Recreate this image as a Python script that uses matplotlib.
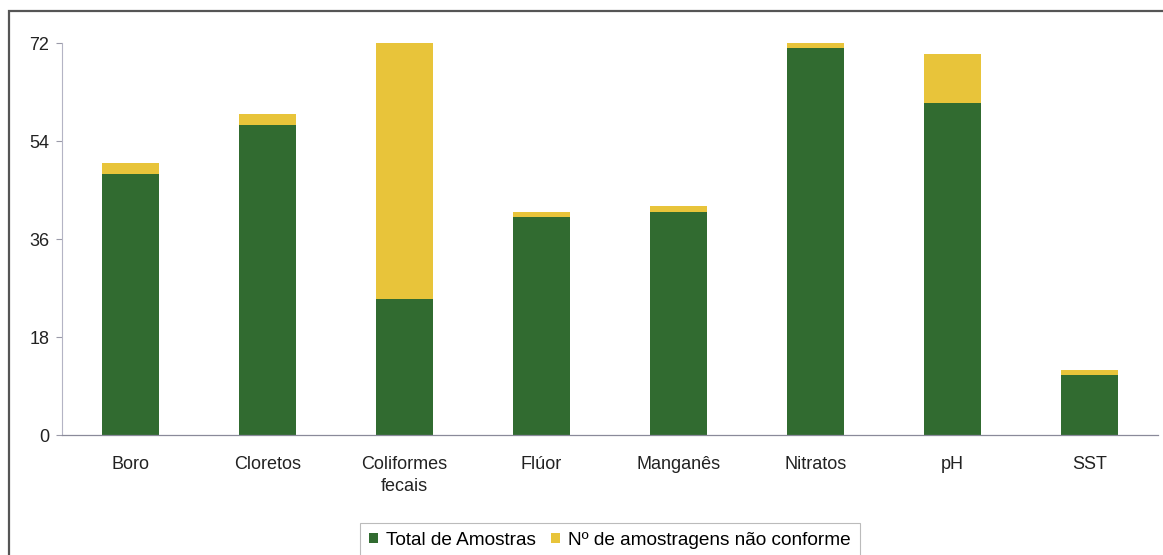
import matplotlib
matplotlib.use("Agg")
import matplotlib.pyplot as plt
from matplotlib.patches import Rectangle
import numpy as np

categories = ["Boro", "Cloretos", "Coliformes\nfecais", "Flúor", "Manganês",
              "Nitratos", "pH", "SST"]
total_amostras = [48, 57, 25, 40, 41, 71, 61, 11]
nao_conforme = [2, 2, 47, 1, 1, 1, 9, 1]
y_ticks = [0, 18, 36, 54, 72]

green = "#316b30"
yellow = "#e8c43a"

plt.rcParams["font.family"] = ["Liberation Sans", "DejaVu Sans"]

fig = plt.figure(figsize=(11.63, 5.55), dpi=100)
ax = fig.add_axes([62 / 1163, 1 - 435 / 555, (1158 - 62) / 1163, (435 - 43) / 555])

x = np.arange(len(categories))
ax.bar(x, total_amostras, width=0.41, color=green, label="Total de Amostras")
ax.bar(x, nao_conforme, width=0.41, bottom=total_amostras, color=yellow,
       label="Nº de amostragens não conforme")

ax.set_xlim(-0.5, len(categories) - 0.5)
ax.set_ylim(0, 72)
ax.set_yticks(y_ticks)
ax.set_xticks(x)
ax.set_xticklabels(categories, fontsize=13, color="#222222", linespacing=1.4)
ax.tick_params(axis="x", length=0, pad=15)
ax.tick_params(axis="y", length=4, width=0.8, color="#9a9aa8", labelsize=13,
               labelcolor="#222222", pad=5)

for side in ("top", "right"):
    ax.spines[side].set_visible(False)
ax.spines["left"].set_color("#b4b4c4")
ax.spines["left"].set_linewidth(0.8)
ax.spines["bottom"].set_color("#8a8a9a")
ax.spines["bottom"].set_linewidth(0.9)

# outer chart frame (top and left edges fall inside the canvas)
fig.patches.append(Rectangle((9 / 1163, -0.05), 1.05, 1.05 - 11 / 555,
                             transform=fig.transFigure, fill=False,
                             edgecolor="#555555", linewidth=1.6))

leg = fig.legend(loc="upper center", bbox_to_anchor=(610 / 1163, 1 - 523 / 555),
                 ncol=2, fontsize=13.7, frameon=True, fancybox=False,
                 borderaxespad=0.0,
                 handlelength=0.45, handleheight=0.45, handletextpad=0.45,
                 columnspacing=0.8, borderpad=0.45)
leg.get_frame().set_edgecolor("#aaaaaa")
leg.get_frame().set_linewidth(0.8)

fig.savefig("out.png", dpi=100)
